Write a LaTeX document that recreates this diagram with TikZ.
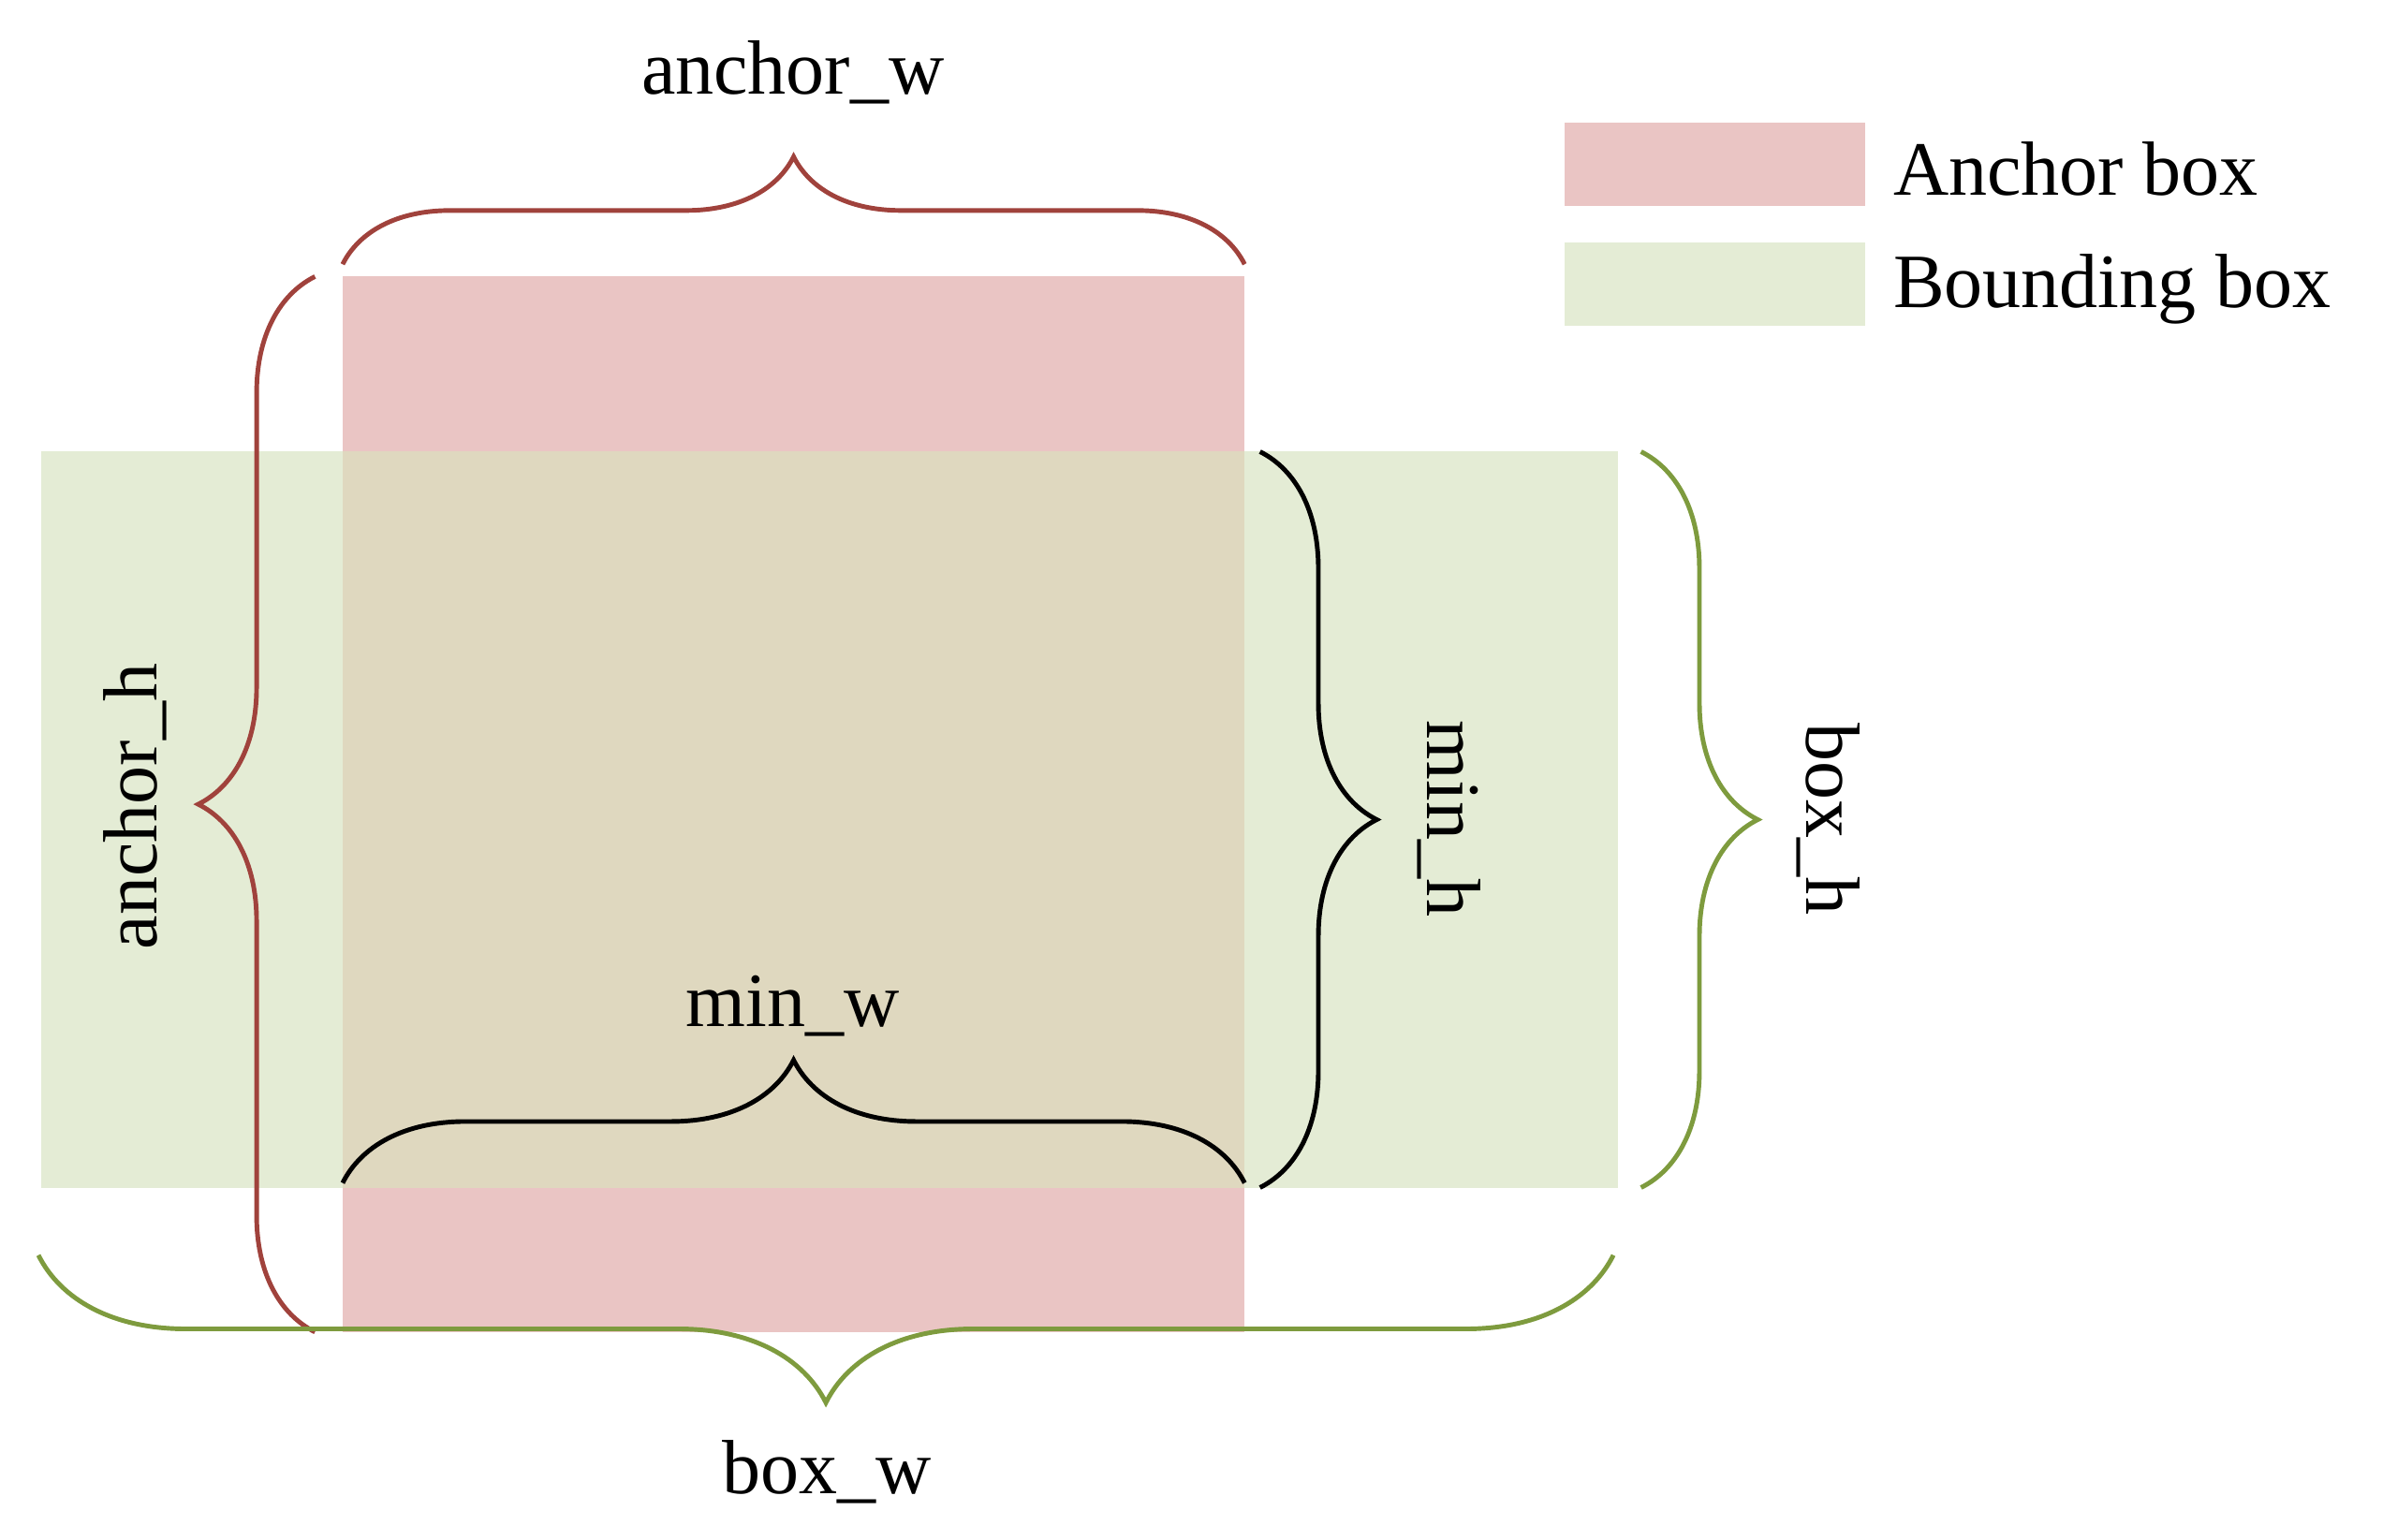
\documentclass[tikz,border=0pt]{standalone}
\usepackage{fontspec}
\setmainfont{Liberation Serif}
\usetikzlibrary{decorations.pathreplacing}
\definecolor{ared}{HTML}{A0423C}
\definecolor{bgreen}{HTML}{7E9B3E}
\definecolor{afill}{HTML}{EAC5C4}
\definecolor{bfill}{HTML}{E4ECD5}
\definecolor{ofill}{HTML}{DFD8BF}
\tikzset{
 br/.style={decorate,decoration={brace,amplitude=#1},line width=3pt},
 lbl/.style={font=\fontsize{50}{60}\selectfont,inner sep=0pt}
}
\begin{document}
\begin{tikzpicture}[x=1pt,y=-1pt]
\useasboundingbox (0,0) rectangle (1560,1002);
\fill[bfill] (27,294) rectangle (1053,773);
\fill[afill] (223,180) rectangle (810,867);
\fill[ofill] (223,294) rectangle (810,773);
% legend
\fill[afill] (1018,80) rectangle (1214,134);
\fill[bfill] (1018,158) rectangle (1214,212);
\node[lbl,anchor=west] (la) at (1232,110) {Anchor box};
\node[lbl,anchor=west] (lb) at (1232,188) {Bounding box};
% braces
\coordinate (aw1) at (223,172); \coordinate (aw2) at (810,172);
\draw[ared,br=70pt] (aw1) -- (aw2);
\node[lbl] (taw) at (516,47) {anchor\_w};
\coordinate (ah1) at (205,867); \coordinate (ah2) at (205,180);
\draw[ared,br=76pt] (ah1) -- (ah2);
\node[lbl,rotate=90] (tah) at (88,525) {anchor\_h};
\coordinate (mw1) at (223,770); \coordinate (mw2) at (810,770);
\draw[black,br=80pt] (mw1) -- (mw2);
\node[lbl] (tmw) at (516,655) {min\_w};
\coordinate (mh1) at (820,294); \coordinate (mh2) at (820,773);
\draw[black,br=76pt] (mh1) -- (mh2);
\node[lbl,rotate=-90] (tmh) at (943,533) {min\_h};
\coordinate (bh1) at (1068,294); \coordinate (bh2) at (1068,773);
\draw[bgreen,br=76pt] (bh1) -- (bh2);
\node[lbl,rotate=-90] (tbh) at (1190,533) {box\_h};
\coordinate (bw1) at (1050,817); \coordinate (bw2) at (25,817);
\draw[bgreen,br=96pt] (bw1) -- (bw2);
\node[lbl] (tbw) at (538,958) {box\_w};
\end{tikzpicture}
\end{document}
